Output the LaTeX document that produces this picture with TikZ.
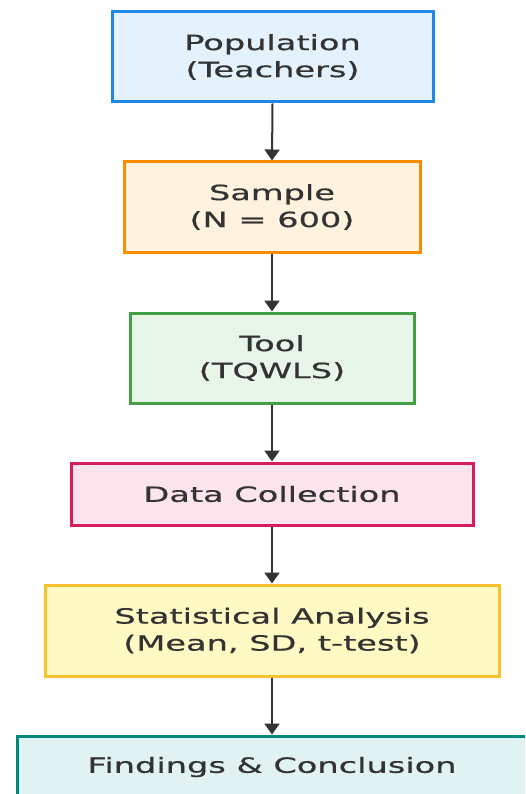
\documentclass[tikz,border=0pt]{standalone}
\usepackage{fontspec}
\setmainfont{DejaVu Sans}[FakeStretch=1.6,FakeBold=0.6]
\usetikzlibrary{arrows.meta}
\definecolor{txt}{HTML}{333333}
\definecolor{bluefill}{HTML}{E3F2FD}\definecolor{blueline}{HTML}{1E88E5}
\definecolor{orfill}{HTML}{FFF3E0}\definecolor{orline}{HTML}{FB8C00}
\definecolor{grfill}{HTML}{E8F5E9}\definecolor{grline}{HTML}{43A047}
\definecolor{pkfill}{HTML}{FCE4EC}\definecolor{pkline}{HTML}{D81B60}
\definecolor{yefill}{HTML}{FFF9C4}\definecolor{yeline}{HTML}{FBC02D}
\definecolor{tefill}{HTML}{E0F2F1}\definecolor{teline}{HTML}{00897B}
\begin{document}
\begin{tikzpicture}[x=1pt,y=-1pt,
  box/.style={draw, line width=3pt, align=center, text=txt, inner sep=0pt,
    font=\fontsize{21}{27}\selectfont},
  arr/.style={draw=txt, line width=2pt, -{Triangle[width=15pt,length=11pt]}}]
\useasboundingbox (0,0) rectangle (525,794);
\clip (0,0) rectangle (525,794);
\node[box, fill=bluefill, draw=blueline, minimum width=321pt, minimum height=90pt] (pop) at (272.5,57) {Population\\(Teachers)};
\node[box, fill=orfill, draw=orline, minimum width=296pt, minimum height=90pt] (samp) at (272,207) {Sample\\(N = 600)};
\node[box, fill=grfill, draw=grline, minimum width=284pt, minimum height=90pt] (tool) at (272,358) {Tool\\(TQWLS)};
\node[box, fill=pkfill, draw=pkline, minimum width=402pt, minimum height=62pt] (data) at (272,494) {Data Collection};
\node[box, fill=yefill, draw=yeline, minimum width=454pt, minimum height=91pt] (stat) at (272,630.5) {Statistical Analysis\\(Mean, SD, t-test)};
\node[box, fill=tefill, draw=teline, minimum width=510pt, minimum height=62pt] (find) at (272,767) {Findings \& Conclusion};
\draw[arr] (pop.south) -- (samp.north);
\draw[arr] (samp.south) -- (tool.north);
\draw[arr] (tool.south) -- (data.north);
\draw[arr] (data.south) -- (stat.north);
\draw[arr] (stat.south) -- (find.north);
\end{tikzpicture}
\end{document}
